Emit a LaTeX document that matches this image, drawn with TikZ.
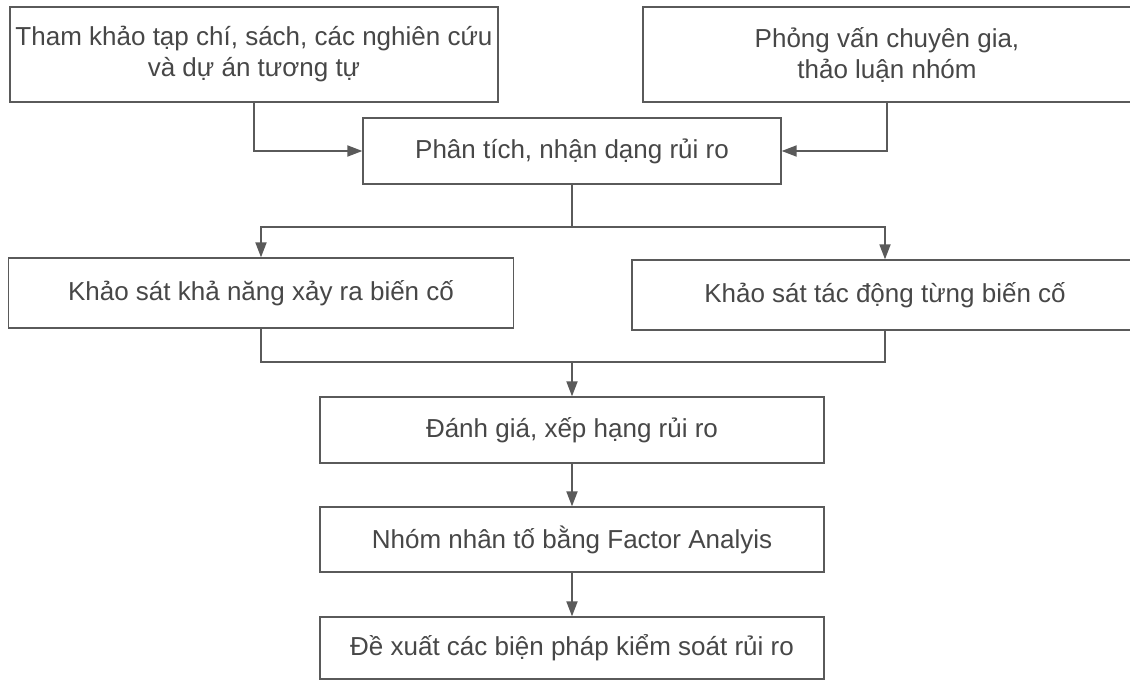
\documentclass[tikz,border=0pt]{standalone}
\usepackage{fontspec}
\setmainfont{Liberation Sans}
\usetikzlibrary{arrows.meta,calc,positioning}
\definecolor{ink}{HTML}{474747}
\definecolor{edge}{HTML}{5A5A5A}

\begin{document}
\begin{tikzpicture}[x=1pt,y=-1pt,font=\fontsize{26}{31}\selectfont,
  box/.style={draw=edge,line width=1.3pt,text=ink,align=center,inner sep=0pt},
  wire/.style={draw=edge,line width=1.8pt},
  link/.style={wire,-{Triangle[length=15pt,width=11pt]}}]
\useasboundingbox[fill=white] (0,0) rectangle (1130,682);
% boxes: name / centre x / centre y / width / height / text
\foreach \nm/\cx/\cy/\w/\h/\txt in {
 ref/254/54.5/488/95/{Tham khảo tạp chí, sách, các nghiên cứu\\và dự án tương tự},
 expert/887/54.5/488/95/{Phỏng vấn chuyên gia,\\thảo luận nhóm},
 ident/572/151/418/66/{Phân tích, nhận dạng rủi ro},
 prob/261/293/505/70/{Khảo sát khả năng xảy ra biến cố},
 impact/885/295/506/70/{Khảo sát tác động từng biến cố},
 rank/572/430/504/66/{Đánh giá, xếp hạng rủi ro},
 factor/572/539.5/504/65/{Nhóm nhân tố bằng Factor Analyis},
 control/572/648/504/62/{Đề xuất các biện pháp kiểm soát rủi ro}} {
 \node[box,minimum width=\w pt,minimum height=\h pt] (\nm) at (\cx,\cy) {\txt};
}
\coordinate (split) at (572,227);
\coordinate (merge) at (572,362);
\draw[link] (ref.south) |- (ident.west);
\draw[link] (expert.south) |- (ident.east);
\draw[wire] (ident.south) -- (split);
\draw[link] (split) -| (prob.north);
\draw[link] (split) -| (impact.north);
\draw[wire] (prob.south) |- (merge) -| (impact.south);
\draw[link] (merge) -- (rank.north);
\draw[link] (rank) -- (factor);
\draw[link] (factor) -- (control);
\end{tikzpicture}
\end{document}
